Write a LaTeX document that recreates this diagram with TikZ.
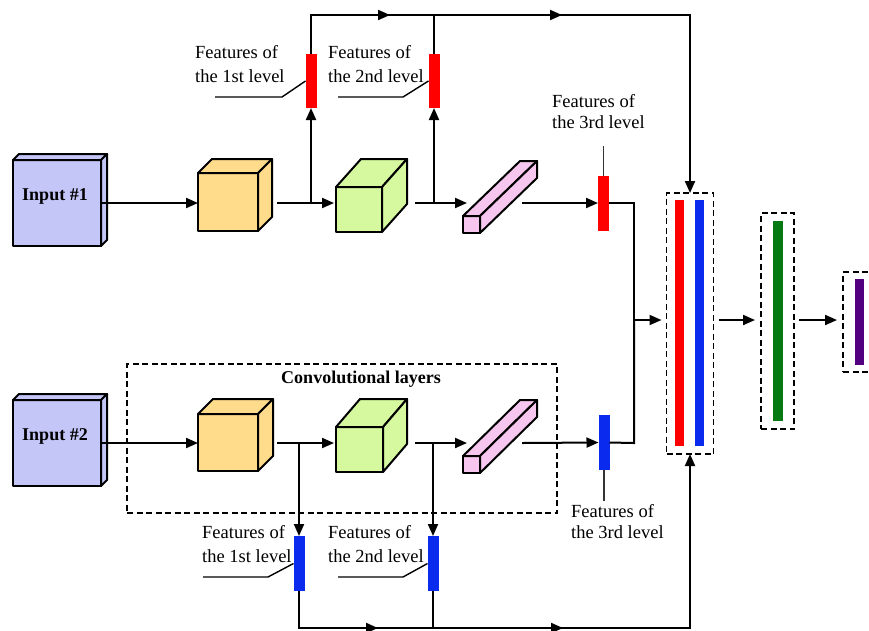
\documentclass[tikz,border=0pt]{standalone}
\usepackage{fontspec}
\setmainfont{Liberation Serif}
\usetikzlibrary{arrows.meta,decorations.markings}

\definecolor{inblue}{HTML}{C3C6F7}
\definecolor{cubeyel}{HTML}{FFDC8C}
\definecolor{cubegrn}{HTML}{D6F9A0}
\definecolor{barpink}{HTML}{F6C6EE}
\definecolor{fred}{HTML}{FF0000}
\definecolor{fblue}{HTML}{0A2BEE}
\definecolor{fgreen}{HTML}{057A12}
\definecolor{fpurple}{HTML}{520080}

\tikzset{
  face/.style={draw=black, line width=2pt, line join=round, inner sep=0pt, outer sep=0pt, anchor=north west},
  edge3d/.style={draw=black, line width=2pt, line join=round},
  fbar/.style={draw=none, inner sep=0pt, outer sep=0pt, anchor=north west},
  flow/.style={line width=2pt, -{Triangle[length=12pt,width=10pt]}},
  plain/.style={line width=2pt},
  leader/.style={line width=1.4pt},
  tickline/.style={line width=1.7pt, draw=black!80},
  groupbox/.style={draw=black, line width=1.8pt, dash pattern=on 6pt off 3.5pt, inner sep=0pt, outer sep=0pt, anchor=north west},
  lbl/.style={font=\fontsize{18.5}{21}\selectfont, inner sep=0pt, anchor=base west},
  ttl/.style={font=\bfseries\fontsize{18}{21}\selectfont, inner sep=0pt, anchor=base},
  midtips/.style n args={2}{postaction={decorate}, decoration={markings,
      mark=at position #1 with {\arrow{Triangle[length=12pt,width=10pt]}},
      mark=at position #2 with {\arrow{Triangle[length=12pt,width=10pt]}}}},
}

% solid box: name, left, top, width, height, depth x, depth y, fill
\newcommand\solidbox[8]{%
  \node[face, fill=#8, minimum width=#4pt, minimum height=#5pt] (#1) at (#2,#3) {};
  \filldraw[edge3d, fill=#8] (#1.north west) -- ++(#6,-#7) -- ++(#4,0) -- (#1.north east) -- cycle;
  \filldraw[edge3d, fill=#8] (#1.north east) -- ++(#6,-#7) -- ++(0,#5) -- (#1.south east) -- cycle;
}
% flat feature bar: name, left, top, width, height, colour
\newcommand\featbar[6]{%
  \node[fbar, fill=#6, minimum width=#4pt, minimum height=#5pt] (#1) at (#2,#3) {};
}

\begin{document}
\begin{tikzpicture}[x=1pt,y=-1pt]
\useasboundingbox (0,0) rectangle (869,630);
\clip (0,0) rectangle (869,630);

% ---------- branch 1 ----------
\solidbox{in1}{13}{160}{88}{86}{6}{6}{inblue}
\node[ttl] (in1t) at (55,200) {Input \#1};
\solidbox{y1}{198}{173}{60}{58}{14}{14}{cubeyel}
\solidbox{g1}{336}{187}{46}{45}{25}{28}{cubegrn}
\solidbox{p1}{463}{216}{17}{17}{57}{55}{barpink}
\featbar{r1}{305.5}{54}{11}{54}{fred}
\featbar{r2}{428.5}{54}{11}{54}{fred}
\featbar{r3}{598}{175.5}{11}{55}{fred}

% ---------- branch 2 ----------
\node[groupbox, minimum width=430pt, minimum height=149pt] (conv) at (127,364) {};
\node[ttl] (convt) at (361,383) {Convolutional layers};
\solidbox{in2}{13}{400}{88}{86}{6}{6}{inblue}
\node[ttl] (in2t) at (55,440) {Input \#2};
\solidbox{y2}{198}{414}{60}{57}{15}{15}{cubeyel}
\solidbox{g2}{336}{427}{47}{45}{24}{28}{cubegrn}
\solidbox{p2}{463}{456}{17}{17}{57}{56}{barpink}
\featbar{bl1}{293.5}{536}{11}{55}{fblue}
\featbar{bl2}{427.5}{536}{11}{55}{fblue}
\featbar{bl3}{598.5}{415}{11}{55}{fblue}

% ---------- fusion and classifier ----------
\node[groupbox, minimum width=47pt, minimum height=261pt] (cat) at (666.5,193) {};
\featbar{catr}{675}{200}{9}{246}{fred}
\featbar{catb}{694.5}{200}{9.5}{246}{fblue}
\node[groupbox, minimum width=33pt, minimum height=216pt] (gbx) at (761,213) {};
\featbar{gbar}{773}{221}{10}{200}{fgreen}
\node[groupbox, minimum width=48pt, minimum height=100pt] (pbx) at (843,272) {};
\featbar{pbar}{855}{279}{9}{86}{fpurple}

% ---------- junctions ----------
\coordinate (b1) at (311,203);
\coordinate (b2) at (434,203);
\coordinate (y1o) at (277,203);
\coordinate (g1o) at (415,203);
\coordinate (p1i) at (467,203);
\coordinate (p1o) at (522,203);
\coordinate (jt) at (634,203);
\coordinate (j) at (634,320);
\coordinate (tl) at (311,15);
\coordinate (tr) at (690,15);

\coordinate (b3) at (299,443);
\coordinate (b4) at (433,443);
\coordinate (y2o) at (277,443);
\coordinate (g2o) at (415,443);
\coordinate (p2i) at (467,443);
\coordinate (p2o) at (522,443);
\coordinate (jb) at (634,443);
\coordinate (bll) at (299,628);
\coordinate (blr) at (690,628);

% ---------- connectors, branch 1 ----------
\draw[flow] (in1.east) -- (in1.east -| y1.west);
\draw[plain] (y1o) -- (b1);
\draw[flow, shorten >=2pt] (b1) -- (b1 -| g1.west);
\draw[flow] (b1) -- (r1.south);
\draw[plain] (g1o) -- (b2);
\draw[flow] (b2) -- (p1i);
\draw[flow] (b2) -- (r2.south);
\draw[flow] (p1o) -- (r3.west);
\draw[plain] (r3.east) -- (jt) -- (j);
\draw[tickline] (r3.north) -- ++(0,-30);
\draw[flow, midtips={118pt}{290pt}] (r1.north) -- (tl) -- (tr) -- (cat.north);
\draw[plain] (r2.north) -- (r2.north |- tl);

% ---------- connectors, branch 2 ----------
\draw[flow] (in2.east) -- (in2.east -| y2.west);
\draw[plain] (y2o) -- (b3);
\draw[flow, shorten >=2pt] (b3) -- (b3 -| g2.west);
\draw[flow] (b3) -- (bl1.north);
\draw[plain] (g2o) -- (b4);
\draw[flow] (b4) -- (p2i);
\draw[flow] (b4) -- (bl2.north);
\draw[flow] (p2o) -- (bl3.west);
\draw[plain] (bl3.east) -- (jb) -- (j);
\draw[tickline] (bl3.south) -- ++(0,31);
\draw[flow, midtips={116pt}{301pt}] (bl1.south) -- (bll) -- (blr) -- (cat.south);
\draw[plain] (bl2.south) -- (bl2.south |- bll);

% ---------- fusion connectors ----------
\draw[flow, shorten >=5pt] (j) -- (j -| cat.west);
\draw[flow, shorten <=5pt, shorten >=6pt] (j -| cat.east) -- (j -| gbx.west);
\draw[flow, shorten <=5pt, shorten >=6pt] (j -| gbx.east) -- (j -| pbx.west);

% ---------- labels ----------
\node[lbl] (t1a) at (195,58) {Features of};
\node[lbl] (t1b) at (195,82) {the 1st level};
\coordinate (t1l) at (215,97);
\draw[leader] (t1l) -- ++(67,0) -- (r1.west);

\node[lbl] (t2a) at (328,58) {Features of};
\node[lbl] (t2b) at (328,82) {the 2nd level};
\coordinate (t2l) at (338,97);
\draw[leader] (t2l) -- ++(65,0) -- (r2.west);

\node[lbl] (t3a) at (552,107) {Features of};
\node[lbl] (t3b) at (552,128) {the 3rd level};

\node[lbl] (u1a) at (202,538) {Features of};
\node[lbl] (u1b) at (202,562) {the 1st level};
\coordinate (u1l) at (203,577);
\draw[leader] (u1l) -- ++(65,0) -- (bl1.west);

\node[lbl] (u2a) at (328,538) {Features of};
\node[lbl] (u2b) at (328,562) {the 2nd level};
\coordinate (u2l) at (338,577);
\draw[leader] (u2l) -- ++(65,0) -- (bl2.west);

\node[lbl] (u3a) at (571,517) {Features of};
\node[lbl] (u3b) at (571,538) {the 3rd level};
\end{tikzpicture}
\end{document}
